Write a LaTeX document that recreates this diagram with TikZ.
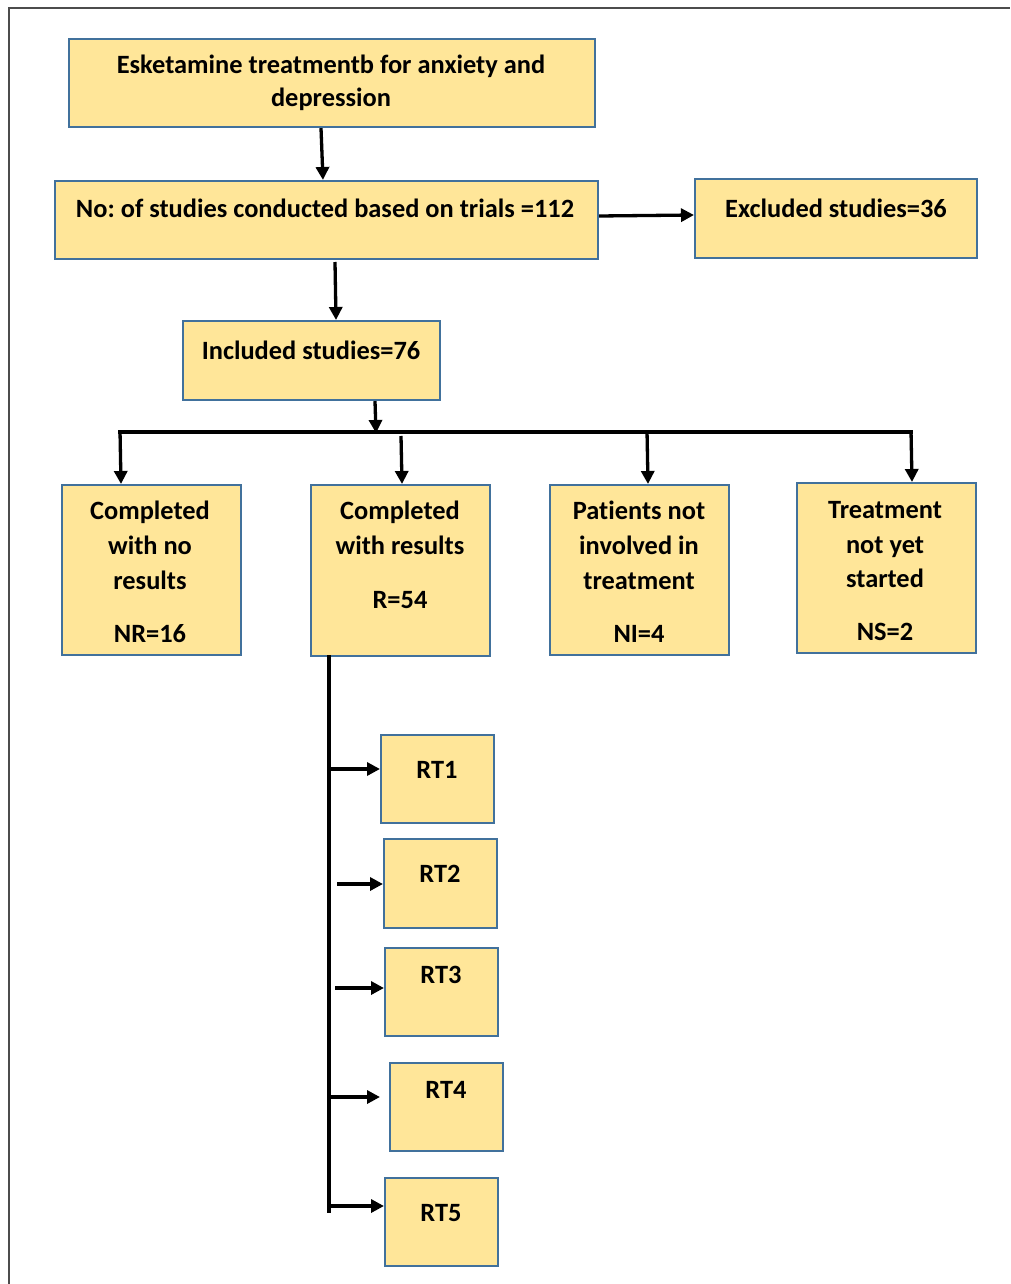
\documentclass[tikz,border=0pt]{standalone}
\usepackage{fontspec}
\setmainfont{Carlito}[Ligatures={NoCommon}]
\frenchspacing
\usetikzlibrary{arrows.meta}
\definecolor{boxfill}{HTML}{FFE699}
\definecolor{boxline}{HTML}{41719C}
\tikzset{
  box/.style={draw=boxline, fill=boxfill, line width=2.2pt, anchor=north west, inner sep=0pt},
  txt/.style={anchor=base, inner sep=0pt, font=\fontsize{26.4}{30}\selectfont\bfseries},
  conn/.style={line width=3.3pt, -{Triangle[length=13pt,width=13pt]}},
  bus/.style={line width=3.3pt}
}
\begin{document}
\begin{tikzpicture}[x=1pt,y=-1pt]
\useasboundingbox (0,0) rectangle (1010,1284);
% frame
\draw[line width=2pt, color=black!70] (8.5,1284) -- (8.5,8.5) -- (1010,8.5);
% boxes
\node[box, minimum width=526pt, minimum height=88pt] (top) at (68,38) {};
\node[box, minimum width=543pt, minimum height=78pt] (stud) at (54,180) {};
\node[box, minimum width=282pt, minimum height=79pt] (excl) at (694,178) {};
\node[box, minimum width=257pt, minimum height=79pt] (incl) at (182,320) {};
\node[box, minimum width=179pt, minimum height=170pt] (nr) at (61,484) {};
\node[box, minimum width=179pt, minimum height=171pt] (r) at (310,484) {};
\node[box, minimum width=179pt, minimum height=170pt] (ni) at (549,484) {};
\node[box, minimum width=179pt, minimum height=170pt] (ns) at (796,482) {};
\node[box, minimum width=113pt, minimum height=88pt] (rt1) at (380,734) {};
\node[box, minimum width=113pt, minimum height=89pt] (rt2) at (383,838) {};
\node[box, minimum width=113pt, minimum height=88pt] (rt3) at (384,947) {};
\node[box, minimum width=113pt, minimum height=88pt] (rt4) at (389,1062) {};
\node[box, minimum width=113pt, minimum height=88pt] (rt5) at (384,1177) {};
% texts
\node[txt] (t1a) at (331,74) {Esketamine treatmentb for anxiety and};
\node[txt] (t1b) at (331,107) {depression};
\node[txt] (t2) at (325,218) {No: of studies conducted based on trials =112};
\node[txt] (t3) at (836,217) {Excluded studies=36};
\node[txt] (t4) at (311,359) {Included studies=76};
\node[txt] (ta1) at (150,519) {Completed};
\node[txt] (ta2) at (150,554) {with no};
\node[txt] (ta3) at (150,589) {results};
\node[txt] (ta4) at (150,642) {NR=16};
\node[txt] (tb1) at (400,519) {Completed};
\node[txt] (tb2) at (400,554) {with results};
\node[txt] (tb3) at (400,608) {R=54};
\node[txt] (tc1) at (639,519) {Patients not};
\node[txt] (tc2) at (639,554) {involved in};
\node[txt] (tc3) at (639,589) {treatment};
\node[txt] (tc4) at (639,642) {NI=4};
\node[txt] (td1) at (885,518) {Treatment};
\node[txt] (td2) at (885,553) {not yet};
\node[txt] (td3) at (885,587) {started};
\node[txt] (td4) at (885,640) {NS=2};
\node[txt] (tr1) at (437,778) {RT1};
\node[txt] (tr2) at (440,882) {RT2};
\node[txt] (tr3) at (441,983) {RT3};
\node[txt] (tr4) at (446,1098) {RT4};
\node[txt] (tr5) at (441,1221) {RT5};
% coordinates
\coordinate (busL) at (118,432);
\coordinate (busR) at (913,432);
\coordinate (spineTop) at (329,655);
\coordinate (spineBot) at (329,1213);
% connectors
\draw[conn] (top.south -| 321,0) -- (stud.north -| 323,0);
\draw[conn] (stud.east |- 0,216) -- (excl.west |- 0,215);
\draw[conn] (335,262) -- (incl.north -| 336,0);
\draw[conn] (incl.south -| 375,0) -- (376,433);
\draw[bus] (busL) -- (busR);
\draw[conn] (120,430.5) -- (nr.north -| 121,0);
\draw[conn] (401,436) -- (r.north -| 402,0);
\draw[conn] (647,430.5) -- (ni.north -| 648,0);
\draw[conn] (911,430.5) -- (ns.north -| 912,0);
\draw[bus] (spineTop) -- (spineBot);
\draw[conn] (329,769) -- (rt1.west |- 0,769);
\draw[conn] (337,884) -- (rt2.west |- 0,884);
\draw[conn] (335,988) -- (rt3.west |- 0,988);
\draw[conn] (329,1097) -- (380,1097);
\draw[conn] (329,1206) -- (rt5.west |- 0,1206);
\end{tikzpicture}
\end{document}
